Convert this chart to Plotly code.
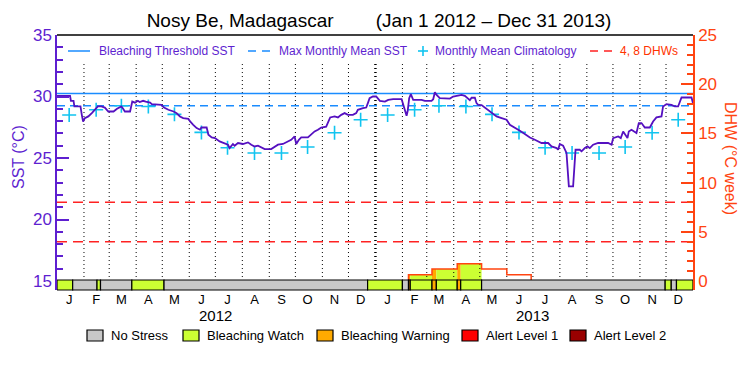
import plotly.graph_objects as go
import pandas as pd

# ---------------- data ----------------
START = pd.Timestamp("2012-01-01")
END = pd.Timestamp("2014-01-01")

# daily SST, day offset from 2012-01-01
sst_day = [0, 15, 16, 19, 20, 27, 28.5, 30, 32, 36, 40, 44, 47, 51, 55, 59, 65, 69, 72, 74, 76, 78, 84,
           86.5, 89.6, 91.5, 93, 95, 99, 102, 107, 109, 113, 116.5, 120, 123, 128, 134, 137.5, 141.3, 145,
           151, 153, 156.6, 160.5, 164.3, 166, 172, 174, 177.8, 181.6,
           186.9, 192.7, 196.5, 198.4, 200.3, 202.2, 204.2, 208, 213.7, 217.5, 219.5, 223.3, 227.2, 231,
           234.7, 238.7, 246.2, 250.1, 254, 259.7, 265.4, 269.2, 273.1, 275, 278, 280.7, 288.4, 292.2,
           296.1, 299.9, 303.7, 309.4, 311.4, 314, 319.1, 322.9, 326.7, 330.6, 334.4, 340.1, 343.9, 345.8,
           351.6, 355.4, 357.3, 359.3, 363.1, 366.9,
           371.1, 376.9, 380.7, 386.4, 396.1, 397.9, 399.9, 401.8, 403, 404.8, 406.7, 409.4, 419, 422.8,
           430.5, 432.4, 434.3, 436.3, 440, 451.6, 455.3, 459.3, 465, 468.8, 472.6, 474.5, 476.5, 480.3,
           482.2, 484.1, 488, 491.8, 497.5, 501.3, 505.2, 511, 516.7, 520.5, 526.2, 532, 537.7, 543.5,
           549.2, 553,
           556.9, 564.5, 568.4, 574.2, 576, 577.9, 581.7, 585.6, 586.8, 588.3, 593.2, 594.4, 596, 600.9,
           602.9, 606.7, 609.8, 612.4, 616.2, 622, 633.5, 637.4, 639.2, 645, 648, 650.7, 653.4, 655.7,
           657.2, 660.3, 666, 668.7, 671.8, 675.6, 681.4, 685.1, 689, 694.8, 696.6, 700.5, 706.3, 710.1,
           713.9, 717.8, 729.3, 731]
sst_val = [30.05, 30.05, 29.65, 29.65, 29.19, 29.19, 28.51, 27.97, 28.24, 28.38, 28.65, 28.92, 29.19,
           29.19, 29.10, 28.78, 28.78, 29.00, 29.10, 29.19, 29.00, 28.78, 28.78,
           29.59, 29.50, 29.59, 29.65, 29.55, 29.65, 29.59, 29.50, 29.38, 29.38, 29.32, 29.32, 29.10,
           28.92, 28.78, 28.65, 28.38, 28.24, 28.19, 27.97, 27.70, 27.43, 27.30, 27.48, 27.48, 26.89,
           26.67, 26.62,
           26.35, 26.22, 26.08, 25.81, 26.00, 26.14, 26.00, 26.22, 26.14, 26.22, 26.27, 26.08, 25.94,
           26.00, 25.86, 25.73, 25.73, 25.94, 26.08, 26.14, 26.35, 26.48, 26.75, 26.14, 26.48, 26.67,
           26.67, 26.89, 27.16, 27.30, 27.48, 27.55, 27.84, 28.30, 28.38, 28.30, 28.51, 28.65, 28.51,
           28.51, 28.65, 28.92, 29.05, 29.10, 29.46, 29.86, 30.00, 30.00,
           29.65, 29.59, 29.73, 29.78, 29.78, 29.32, 28.92, 28.43, 28.80, 29.86, 30.19, 29.73, 29.73,
           29.65, 29.65, 29.78, 30.35, 30.13, 29.86, 29.83, 30.00, 30.05, 30.13, 30.05, 29.86, 29.70,
           29.90, 29.90, 29.46, 29.32, 29.30, 29.10, 28.78, 28.57, 28.38, 28.24, 28.11, 27.70, 27.48,
           27.21, 26.95, 26.67, 26.48, 26.35,
           26.22, 26.22, 25.94, 25.81, 25.67, 26.14, 26.00, 25.41, 24.05, 22.70, 22.70, 24.46, 25.67,
           25.67, 25.54, 25.81, 25.94, 25.80, 26.08, 26.22, 26.22, 26.08, 26.62, 26.75, 26.62, 27.16,
           26.90, 26.62, 27.16, 27.30, 27.03, 27.84, 27.84, 27.48, 27.48, 27.97, 28.30, 28.38, 29.19,
           29.38, 29.32, 29.19, 29.19, 29.92, 29.92, 29.46]

# monthly mean climatology (Jan..Dec), plotted mid-month for both years
clim_vals = [28.50, 28.92, 29.25, 29.19, 28.55, 27.08, 25.83, 25.41, 25.41, 25.89, 27.05, 28.11]
mmm_sst = 29.25
threshold_sst = 30.25
dhw_levels = [4, 8]

# stress bar segments (day offsets) and level: 0 none, 1 watch, 2 warning, 3 alert1, 4 alert2
stress_start = [0, 18, 46, 50, 86, 123, 357, 397, 404, 406, 431, 436, 460, 464, 488, 699, 706, 712]
stress_end = [18, 46, 50, 86, 123, 357, 397, 404, 406, 431, 436, 460, 464, 488, 699, 706, 712, 731]
stress_level = [1, 0, 1, 0, 1, 0, 1, 0, 2, 1, 2, 1, 2, 1, 0, 1, 0, 1]

# DHW (degree heating weeks)
dhw_fill_start = [404, 406, 431, 436, 460, 464]
dhw_fill_end = [406, 431, 436, 460, 464, 488]
dhw_fill_level = [2, 1, 2, 1, 2, 1]
dhw_fill_value = [0.64, 0.64, 1.22, 1.22, 1.76, 1.76]
dhw_step_day = [404, 404, 431, 460, 488, 517, 545]
dhw_step_val = [0, 0.64, 1.22, 1.76, 1.22, 0.64, 0]

month_letters = ["J", "F", "M", "A", "M", "J", "J", "A", "S", "O", "N", "D"]
years = ["2012", "2013"]
stress_names = ["No Stress", "Bleaching Watch", "Bleaching Warning", "Alert Level 1", "Alert Level 2"]
stress_colors = ["#c8c8c8", "#ccff33", "#ffaa00", "#ff0000", "#990000"]
legend_names = ["Bleaching Threshold SST", "Max Monthly Mean SST", "Monthly Mean Climatology", "4, 8 DHWs"]

# ---------------- styling / layout helpers ----------------
FONT = "Liberation Sans"
PURPLE = "#5e1fd0"
LINE_PURPLE = "#5510c0"
ORANGE = "#ff4411"
BLUE = "#1a8cff"
CYAN = "#11c4f0"
RED = "#ff2222"

# page has an 8px body margin; figure is sized to keep the plot box at the reference spot
PLOT_L, PLOT_R, PLOT_T, PLOT_B = 57, 693, 35, 290
BODY = 8
PW, PH = PLOT_R - PLOT_L, PLOT_B - PLOT_T

def px_x(px):
    return (px - PLOT_L) / PW

def px_y(py):
    return (PLOT_B - py) / PH

def d(x):
    return START + pd.to_timedelta(x, unit="D")

month_starts = pd.date_range(START, periods=24, freq="MS")
mid_months = month_starts + pd.Timedelta(days=14)

fig = go.Figure()

fig.add_trace(go.Scatter(x=[START, END], y=[threshold_sst] * 2, mode="lines",
                         line=dict(color=BLUE, width=1.5), name=legend_names[0]))
fig.add_trace(go.Scatter(x=[START, END], y=[mmm_sst] * 2, mode="lines",
                         line=dict(color=BLUE, width=1.5, dash="8px,5px"), name=legend_names[1]))
fig.add_trace(go.Scatter(x=mid_months, y=clim_vals * 2, mode="markers",
                         marker=dict(symbol="cross-thin", size=10, line=dict(color=CYAN, width=1.6)),
                         name=legend_names[2]))
for lv in dhw_levels:
    fig.add_trace(go.Scatter(x=[START, END], y=[lv, lv], mode="lines", yaxis="y2",
                             line=dict(color=RED, width=1.5, dash="10px,6px"), name=legend_names[3]))
fig.add_trace(go.Scatter(x=[d(v) for v in dhw_step_day], y=dhw_step_val, mode="lines", yaxis="y2",
                         line=dict(color=ORANGE, width=1.5, shape="hv"), name="DHW"))
fig.add_trace(go.Scatter(x=[d(v) for v in sst_day], y=sst_val, mode="lines",
                         line=dict(color=LINE_PURPLE, width=1.8), name="SST"))

shapes = []
for s, e, lv, v in zip(dhw_fill_start, dhw_fill_end, dhw_fill_level, dhw_fill_value):
    shapes.append(dict(type="rect", xref="x", yref="y2", x0=d(s), x1=d(e), y0=0, y1=v,
                       fillcolor=stress_colors[lv], line=dict(width=0), layer="below"))
for m in month_starts[1:]:
    w = 2.5 if m.month == 1 else 1
    shapes.append(dict(type="line", xref="x", yref="y", x0=m, x1=m, y0=15, y1=32.7,
                       line=dict(color="black", width=w, dash="1px,3px"), layer="below"))
bar_top = px_y(280)
for s, e, lv in zip(stress_start, stress_end, stress_level):
    shapes.append(dict(type="rect", xref="x", yref="paper", x0=d(s), x1=d(e), y0=0, y1=bar_top,
                       fillcolor=stress_colors[lv], line=dict(color="black", width=1.2), layer="above"))
shapes.append(dict(type="line", xref="paper", yref="paper", x0=0, x1=1, y0=1, y1=1,
                   line=dict(color="black", width=1.5)))

annotations = []
for yr in years:
    annotations.append(dict(x=pd.Timestamp(f"{yr}-07-01"), y=px_y(315), xref="x", yref="paper",
                            text=yr, showarrow=False, yanchor="middle",
                            font=dict(family=FONT, size=15, color="black")))
annotations.append(dict(x=px_x(18), y=px_y(157), xref="paper", yref="paper", text="SST (°C)", textangle=-90,
                        xanchor="center", yanchor="middle",
                        showarrow=False, font=dict(family=FONT, size=16, color=PURPLE)))
annotations.append(dict(x=px_x(731), y=px_y(158), xref="paper", yref="paper", text="DHW (°C week)",
                        textangle=90, xanchor="center", yanchor="middle",
                        showarrow=False, font=dict(family=FONT, size=16, color=ORANGE)))

# top key (drawn in the reference's own style)
LEG_Y = px_y(51)
shapes.append(dict(type="line", xref="paper", yref="paper", x0=px_x(68), x1=px_x(90), y0=LEG_Y, y1=LEG_Y,
                   line=dict(color=BLUE, width=1.5)))
shapes.append(dict(type="line", xref="paper", yref="paper", x0=px_x(248), x1=px_x(270), y0=LEG_Y, y1=LEG_Y,
                   line=dict(color=BLUE, width=1.5, dash="8px,6px")))
shapes.append(dict(type="line", xref="paper", yref="paper", x0=px_x(418), x1=px_x(428), y0=LEG_Y, y1=LEG_Y,
                   line=dict(color=CYAN, width=1.6)))
shapes.append(dict(type="line", xref="paper", yref="paper", x0=px_x(423), x1=px_x(423), y0=px_y(46),
                   y1=px_y(56), line=dict(color=CYAN, width=1.6)))
shapes.append(dict(type="line", xref="paper", yref="paper", x0=px_x(590), x1=px_x(612), y0=LEG_Y, y1=LEG_Y,
                   line=dict(color=RED, width=1.5, dash="8px,6px")))
for name, tx, col in zip(legend_names, [97, 277, 433, 618], [PURPLE, PURPLE, PURPLE, "#ff3300"]):
    annotations.append(dict(x=px_x(tx), y=LEG_Y, xref="paper", yref="paper", text=name, showarrow=False,
                            xanchor="left", yanchor="middle", font=dict(family=FONT, size=12, color=col)))

# bottom stress-level key
key_px = [87, 183, 317, 462, 570]
for name, col, kx in zip(stress_names, stress_colors, key_px):
    shapes.append(dict(type="rect", xref="paper", yref="paper", x0=px_x(kx), x1=px_x(kx + 16),
                       y0=px_y(341), y1=px_y(330), fillcolor=col, line=dict(color="black", width=1.2)))
    annotations.append(dict(x=px_x(kx + 22), y=px_y(335.5), xref="paper", yref="paper", text=name,
                            showarrow=False, xanchor="left", yanchor="middle",
                            font=dict(family=FONT, size=13, color="black")))

fig.update_layout(
    width=750 - BODY, height=375 - BODY,
    margin=dict(l=PLOT_L - BODY, r=750 - PLOT_R, t=PLOT_T - BODY, b=375 - PLOT_B, autoexpand=False),
    paper_bgcolor="white", plot_bgcolor="white",
    title=dict(text="Nosy Be, Madagascar" + "\u00a0" * 8 + "(Jan 1 2012 \u2013 Dec 31 2013)",
               x=0.5, xanchor="center", y=1 - (20 - BODY) / (375 - BODY), yanchor="middle",
               font=dict(family=FONT, size=19, color="black")),
    xaxis=dict(type="date", range=[START, END], tickvals=mid_months, ticktext=month_letters * 2,
               ticks="", showgrid=False, zeroline=False, showline=False,
               tickfont=dict(family=FONT, size=13, color="black")),
    yaxis=dict(range=[14.27, 35], tickvals=[15, 20, 25, 30, 35], ticks="inside", ticklen=12,
               tickcolor=PURPLE, tickwidth=1.5, showline=True, linecolor=PURPLE, linewidth=1.5,
               showgrid=False, zeroline=False,
               minor=dict(dtick=1, tick0=15, ticks="inside", ticklen=6, tickcolor=PURPLE, tickwidth=1.5),
               tickfont=dict(family=FONT, size=17, color=PURPLE)),
    yaxis2=dict(range=[-0.915, 25], overlaying="y", side="right", tickvals=[0, 5, 10, 15, 20, 25],
                ticks="inside", ticklen=12, tickcolor=ORANGE, tickwidth=1.5, showline=True,
                linecolor=ORANGE, linewidth=1.5, showgrid=False, zeroline=False,
                minor=dict(dtick=1, tick0=0, ticks="inside", ticklen=6, tickcolor=ORANGE, tickwidth=1.5),
                tickfont=dict(family=FONT, size=17, color=ORANGE)),
    shapes=shapes, annotations=annotations,
    showlegend=False,
)

fig.write_html("out.html")
